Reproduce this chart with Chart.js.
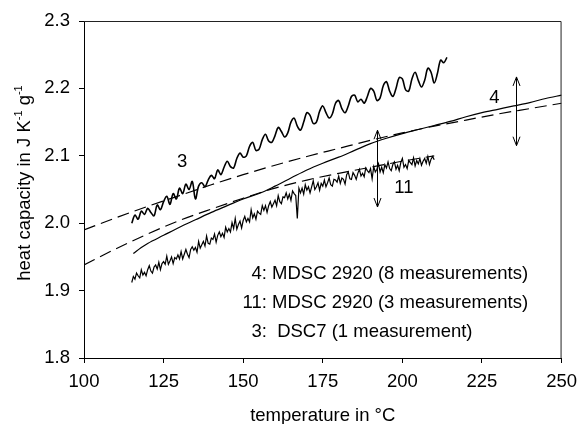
<!DOCTYPE html>
<html><head><meta charset="utf-8">
<script src="https://cdn.jsdelivr.net/npm/chart.js@4.4.0/dist/chart.umd.min.js"></script>
<style>html,body{margin:0;padding:0;background:#fff}#wrap{width:585px;height:424px}</style>
</head><body><div id="wrap"><canvas id="c" width="585" height="424"></canvas></div>
<script>
// ---- axis ticks
const xTicks = [100,125,150,175,200,225,250];
const yTicks = [1.8,1.9,2.0,2.1,2.2,2.3];

// ---- curve 3: DSC7 (1 measurement)
const t3 = [115,116,117,118,119,120,121,122,123,124,125,126,127,128,129,130,131,132,133,134,135,136,137,138,139,140,141,142,143,144,145,146,147,148,149,150,151,152,153,154,155,156,157,158,159,160,161,162,163,164,165,166,167,168,169,170,171,172,173,174,175,176,177,178,179,180,181,182,183,184,185,186,187,188,189,190,191,192,193,194,195,196,197,198,199,200,201,202,203,204,205,206,207,208,209,210,211,212,213,214];
const cp3 = [2.000,2.012,2.006,2.018,2.013,2.022,2.016,2.011,2.027,2.020,2.032,2.040,2.028,2.044,2.036,2.052,2.044,2.058,2.050,2.062,2.036,2.055,2.060,2.054,2.064,2.071,2.066,2.079,2.072,2.083,2.092,2.084,2.082,2.096,2.104,2.098,2.100,2.114,2.120,2.108,2.110,2.124,2.132,2.122,2.120,2.130,2.142,2.136,2.128,2.134,2.150,2.156,2.144,2.138,2.150,2.164,2.160,2.148,2.150,2.166,2.174,2.164,2.156,2.162,2.178,2.182,2.170,2.164,2.174,2.188,2.190,2.180,2.184,2.178,2.188,2.200,2.196,2.182,2.186,2.204,2.210,2.196,2.188,2.200,2.216,2.214,2.198,2.196,2.214,2.224,2.212,2.202,2.212,2.230,2.224,2.208,2.222,2.242,2.238,2.246];

// ---- curve 4: MDSC 2920 (8 measurements), mean
const t4 = [115.5,118,120,125,130,135,140,145,150,155,160,165,170,175,180,185,190,195,200,205,210,215,220,225,230,235,240,245,250];
const cp4 = [1.955,1.964,1.970,1.982,1.994,2.005,2.016,2.026,2.036,2.044,2.055,2.067,2.079,2.089,2.098,2.108,2.118,2.126,2.133,2.139,2.145,2.151,2.158,2.164,2.169,2.174,2.179,2.185,2.190];

// ---- dashed reference line (upper)
const tD1 = [100,110,120,130,140,150,160,170,180,190,200,210,220,230,240,250];
const cpD1 = [1.990,2.008,2.025,2.041,2.057,2.072,2.086,2.099,2.111,2.123,2.134,2.144,2.153,2.162,2.170,2.178];

// ---- dashed reference line (lower)
const tD2 = [100,110,120,130,140,150,160,170,180,190,200,210];
const cpD2 = [1.938,1.962,1.984,2.004,2.021,2.037,2.052,2.064,2.074,2.083,2.092,2.100];

// ---- curve 11: MDSC 2920 (3 measurements)
const t11 = [115,115.5,116,116.5,117,117.5,118,118.5,119,119.5,120,120.5,121,121.5,122,122.5,123,123.5,124,124.5,125,125.5,126,126.5,127,127.5,128,128.5,129,129.5,130,130.5,131,131.5,132,132.5,133,133.5,134,134.5,135,135.5,136,136.5,137,137.5,138,138.5,139,139.5,140,140.5,141,141.5,142,142.5,143,143.5,144,144.5,145,145.5,146,146.5,147,147.5,148,148.5,149,149.5,150,150.5,151,151.5,152,152.5,153,153.5,154,154.5,155,155.5,156,156.5,157,157.5,158,158.5,159,159.5,160,160.5,161,161.5,162,162.5,163,163.5,164,164.5,165,165.5,166,166.5,167,167.5,168,168.5,169,169.5,170,170.5,171,171.5,172,172.5,173,173.5,174,174.5,175,175.5,176,176.5,177,177.5,178,178.5,179,179.5,180,180.5,181,181.5,182,182.5,183,183.5,184,184.5,185,185.5,186,186.5,187,187.5,188,188.5,189,189.5,190,190.5,191,191.5,192,192.5,193,193.5,194,194.5,195,195.5,196,196.5,197,197.5,198,198.5,199,199.5,200,200.5,201,201.5,202,202.5,203,203.5,204,204.5,205,205.5,206,206.5,207,207.5,208,208.5,209,209.5,210];
const cp11 = [1.912,1.921,1.917,1.926,1.922,1.919,1.931,1.923,1.927,1.922,
1.931,1.937,1.929,1.926,1.935,1.938,1.932,1.942,1.931,1.940,
1.943,1.939,1.951,1.939,1.944,1.950,1.940,1.949,1.947,1.953,
1.947,1.958,1.947,1.954,1.961,1.954,1.949,1.961,1.965,1.960,
1.964,1.957,1.973,1.963,1.968,1.973,1.966,1.981,1.970,1.969,
1.978,1.976,1.984,1.972,1.982,1.987,1.980,1.985,1.979,1.994,
1.987,1.992,1.987,2.001,1.992,2.007,1.991,1.998,2.003,1.993,
2.004,2.010,2.002,2.007,2.002,2.020,2.008,2.014,2.006,2.018,
2.015,2.013,2.026,2.019,2.026,2.016,2.026,2.032,2.024,2.029,
2.034,2.026,2.041,2.032,2.029,2.039,2.038,2.045,2.036,2.043,
2.034,2.048,2.044,2.041,2.007,2.052,2.045,2.052,2.043,2.057,
2.049,2.054,2.045,2.054,2.063,2.050,2.054,2.060,2.049,2.059,
2.055,2.064,2.054,2.060,2.067,2.057,2.055,2.065,2.064,2.061,
2.070,2.059,2.067,2.065,2.058,2.072,2.076,2.066,2.065,2.075,
2.071,2.065,2.074,2.080,2.070,2.074,2.069,2.082,2.078,2.075,
2.081,2.066,2.084,2.076,2.080,2.088,2.076,2.083,2.075,2.087,
2.082,2.091,2.081,2.078,2.087,2.091,2.080,2.086,2.078,2.090,
2.096,2.083,2.087,2.081,2.093,2.090,2.087,2.097,2.085,2.093,
2.088,2.096,2.086,2.092,2.096,2.089,2.099,2.087,2.095,2.099,
2.094];

// ---- double arrows (temperature, top cp, bottom cp)
const arrowT = [192.1, 235.6];
const arrowTop = [2.138, 2.217];
const arrowBottom = [2.024, 2.115];

// ---- curve labels
const labelText = ['3','4','11'];
const labelT = [130.8, 228.9, 200.5];
const labelCp = [2.091, 2.186, 2.052];

// ---- key text
const noteText = ['4: MDSC 2920 (8 measurements)','11: MDSC 2920 (3 measurements)','3:  DSC7 (1 measurement)'];
const noteT = [152.6, 149.8, 152.6];
const noteCp = [1.925, 1.882, 1.838];

const FONT = "'Liberation Sans', Arial, Helvetica, sans-serif";
const FS = 18.5;
const pts = (t, v) => t.map((x, i) => ({x: x, y: v[i]}));

const decor = {
  id: 'decor',
  afterDatasetsDraw(chart) {
    const ctx = chart.ctx, a = chart.chartArea;
    const xs = chart.scales.x, ys = chart.scales.y;
    ctx.save();
    // box (top & right)
    ctx.strokeStyle = '#222'; ctx.lineWidth = 1;
    ctx.beginPath();
    ctx.moveTo(a.left, a.top + 0.5); ctx.lineTo(a.right - 0.5, a.top + 0.5); ctx.lineTo(a.right - 0.5, a.bottom);
    ctx.stroke();
    // arrows
    ctx.strokeStyle = '#000'; ctx.lineWidth = 1;
    arrowT.forEach((t, i) => {
      const x = Math.round(xs.getPixelForValue(t)) + 0.5;
      const y1 = ys.getPixelForValue(arrowTop[i]);
      const y2 = ys.getPixelForValue(arrowBottom[i]);
      ctx.beginPath();
      ctx.moveTo(x, y1); ctx.lineTo(x, y2);
      ctx.moveTo(x - 3.5, y1 + 9); ctx.lineTo(x, y1); ctx.lineTo(x + 3.5, y1 + 9);
      ctx.moveTo(x - 3.5, y2 - 9); ctx.lineTo(x, y2); ctx.lineTo(x + 3.5, y2 - 9);
      ctx.stroke();
    });
    // labels
    ctx.fillStyle = '#000';
    ctx.font = FS + 'px ' + FONT;
    ctx.textAlign = 'center'; ctx.textBaseline = 'middle';
    labelText.forEach((s, i) => ctx.fillText(s, xs.getPixelForValue(labelT[i]), ys.getPixelForValue(labelCp[i])));
    ctx.textAlign = 'left';
    noteText.forEach((s, i) => ctx.fillText(s, xs.getPixelForValue(noteT[i]), ys.getPixelForValue(noteCp[i])));
    // x title
    ctx.textAlign = 'center';
    ctx.fillText('temperature in \u00B0C', (a.left + a.right) / 2, 416);
    // y title with superscripts
    const parts = [['heat capacity in J K', false], ['-1', true], [' g', false], ['-1', true]];
    let total = 0;
    const widths = parts.map(p => { ctx.font = (p[1] ? '11px ' : FS + 'px ') + FONT; const w = ctx.measureText(p[0]).width; total += w; return w; });
    ctx.translate(25, 183);
    ctx.rotate(-Math.PI / 2);
    ctx.textAlign = 'left';
    let px = -total / 2;
    parts.forEach((p, i) => {
      ctx.font = (p[1] ? '11px ' : FS + 'px ') + FONT;
      ctx.fillText(p[0], px, p[1] ? -6 : 0);
      px += widths[i];
    });
    ctx.restore();
  }
};

Chart.defaults.font.family = FONT;
Chart.defaults.font.size = FS;
Chart.defaults.color = '#000';

new Chart(document.getElementById('c'), {
  type: 'line',
  data: {
    datasets: [
      {label: 'upper dashed', data: pts(tD1, cpD1), borderColor: '#000', borderWidth: 1.2, borderDash: [12, 6], pointRadius: 0, cubicInterpolationMode: 'monotone', fill: false},
      {label: 'lower dashed', data: pts(tD2, cpD2), borderColor: '#000', borderWidth: 1.2, borderDash: [12, 6], pointRadius: 0, cubicInterpolationMode: 'monotone', fill: false},
      {label: '4', data: pts(t4, cp4), borderColor: '#000', borderWidth: 1.2, pointRadius: 0, cubicInterpolationMode: 'monotone', fill: false},
      {label: '11', data: pts(t11, cp11), borderColor: '#000', borderWidth: 1.2, pointRadius: 0, tension: 0, fill: false},
      {label: '3', data: pts(t3, cp3), borderColor: '#000', borderWidth: 1.6, pointRadius: 0, tension: 0.35, fill: false}
    ]
  },
  options: {
    responsive: false,
    animation: false,
    devicePixelRatio: 1,
    layout: {padding: {left: 0, top: 21, right: 19, bottom: 0}},
    plugins: {legend: {display: false}, tooltip: {enabled: false}},
    scales: {
      x: {
        type: 'linear', min: 100, max: 250,
        afterFit(s) { s.height = 66; },
        afterBuildTicks(s) { s.ticks = xTicks.map(v => ({value: v})); },
        ticks: {padding: 8, maxRotation: 0, autoSkip: false, callback: v => String(v)},
        grid: {drawOnChartArea: false, drawTicks: true, tickLength: 5, color: '#000'},
        border: {display: true, color: '#000', width: 1}
      },
      y: {
        type: 'linear', min: 1.8, max: 2.3,
        afterFit(s) { s.width = 84; },
        afterBuildTicks(s) { s.ticks = yTicks.map(v => ({value: v})); },
        ticks: {padding: 9, autoSkip: false, callback: v => Number(v).toFixed(1)},
        grid: {drawOnChartArea: false, drawTicks: true, tickLength: 5, color: '#000'},
        border: {display: true, color: '#000', width: 1}
      }
    }
  },
  plugins: [decor]
});
</script>
</body></html>
